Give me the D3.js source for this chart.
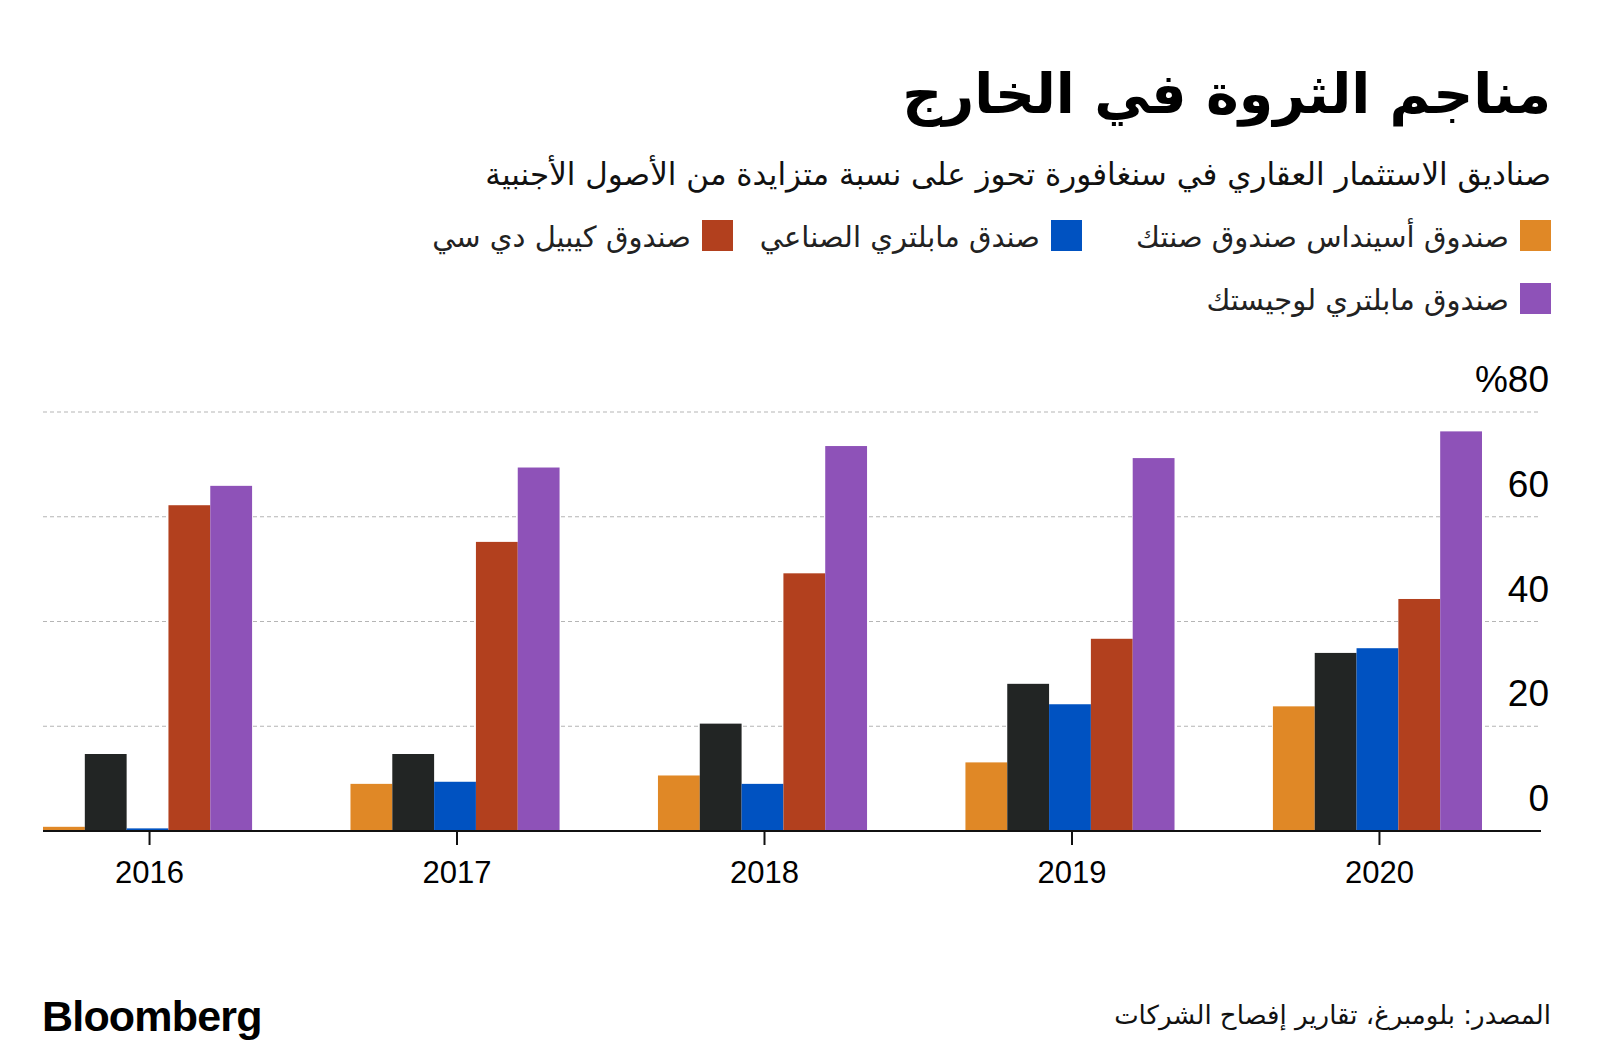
<!DOCTYPE html>
<html><head><meta charset="utf-8">
<script src="https://cdn.jsdelivr.net/npm/d3@7"></script>
<style>
html,body{margin:0;padding:0;background:#fff;}
svg{display:block;}
</style></head>
<body>
<svg id="chart" width="1600" height="1063"></svg>
<script>
const years = ["2016","2017","2018","2019","2020"];
const seriesNames = ["صندوق أسينداس","صندوق صنتك","صندق مابلتري الصناعي","صندوق كيبيل دي سي","صندوق مابلتري لوجيستك"];
const seriesColors = ["#E08826","#222524","#0052C1","#B2401E","#8E52B8"];
const ascendas = [0.8, 9.0, 10.6, 13.1, 23.8];
const suntec = [14.7, 14.7, 20.5, 28.1, 34.0];
const mapletreeInd = [0.5, 9.4, 9.0, 24.2, 34.9];
const keppelDC = [62.2, 55.2, 49.2, 36.7, 44.3];
const mapletreeLog = [65.9, 69.4, 73.5, 71.2, 76.3];
const seriesValues = [ascendas, suntec, mapletreeInd, keppelDC, mapletreeLog];
const yTicks = [0, 20, 40, 60, 80];
const yTickLabels = ["0","20","40","60","%80"];
const legendRow1 = [
  {label: "صندوق أسينداس  صندوق صنتك", color: seriesColors[0]},
  {label: "صندق مابلتري الصناعي", color: seriesColors[2]},
  {label: "صندوق كيبيل دي سي", color: seriesColors[3]}
];
const legendRow2 = [{label: "صندوق مابلتري لوجيستك", color: seriesColors[4]}];
const title = "مناجم الثروة في الخارج";
const subtitle = "صناديق الاستثمار العقاري في سنغافورة تحوز على نسبة متزايدة من الأصول الأجنبية";
const source = "المصدر: بلومبرغ، تقارير إفصاح الشركات";

const svg = d3.select("#chart");
const arFont = "'DejaVu Sans', 'Noto Sans', sans-serif";
const numFont = "'Liberation Sans', Arial, sans-serif";

// Title and subtitle
svg.append("text").attr("x", 1551).attr("y", 113).attr("text-anchor","end")
  .attr("font-family", arFont).attr("font-weight","bold").attr("font-size", 55.5)
  .attr("fill","#000").text(title);
svg.append("text").attr("x", 1551).attr("y", 185).attr("text-anchor","end")
  .attr("font-family", arFont).attr("font-size", 31)
  .attr("fill","#111").text(subtitle);

// Legend
const legendBoxRights = [1551, 1082, 733];
legendRow1.forEach((d,i) => {
  const r = legendBoxRights[i];
  svg.append("rect").attr("x", r-31).attr("y", 220).attr("width",31).attr("height",31).attr("fill", d.color);
  svg.append("text").attr("x", r-42).attr("y", 247).attr("text-anchor","end")
    .attr("font-family", arFont).attr("font-size", 29).attr("fill","#222").text(d.label);
});
legendRow2.forEach((d,i) => {
  const r = legendBoxRights[i];
  svg.append("rect").attr("x", r-31).attr("y", 283).attr("width",31).attr("height",31).attr("fill", d.color);
  svg.append("text").attr("x", r-42).attr("y", 310).attr("text-anchor","end")
    .attr("font-family", arFont).attr("font-size", 29).attr("fill","#222").text(d.label);
});

// Scales
const x0 = d3.scaleBand().domain(years).range([43, 1482]).paddingInner(0.32).paddingOuter(0);
const x1 = d3.scaleBand().domain(d3.range(seriesNames.length)).range([0, x0.bandwidth()]).padding(0);
const y = d3.scaleLinear().domain([0, 80]).range([831, 412]);

// Gridlines
svg.append("g").selectAll("line").data(yTicks.filter(t => t>0)).join("line")
  .attr("x1", 43).attr("x2", 1541)
  .attr("y1", d => y(d)).attr("y2", d => y(d))
  .attr("stroke","#b5b5b5").attr("stroke-width",1.2).attr("stroke-dasharray","4,3");

// Y tick labels
svg.append("g").selectAll("text").data(yTicks).join("text")
  .attr("x", 1549).attr("y", d => y(d) - 20).attr("text-anchor","end")
  .attr("font-family", numFont).attr("font-size", 37).attr("fill","#000")
  .text((d,i) => yTickLabels[i]);

// Bars
const groups = svg.append("g").selectAll("g").data(years).join("g")
  .attr("transform", d => `translate(${x0(d)},0)`);
groups.selectAll("rect").data((yr, yi) => seriesValues.map((vals, si) => ({si, v: vals[yi]}))).join("rect")
  .attr("x", d => x1(d.si)).attr("width", x1.bandwidth())
  .attr("y", d => y(d.v)).attr("height", d => y(0) - y(d.v))
  .attr("fill", d => seriesColors[d.si]);

// X axis baseline and ticks
svg.append("line").attr("x1", 43).attr("x2", 1541).attr("y1", 831).attr("y2", 831)
  .attr("stroke","#111").attr("stroke-width",2);
svg.append("g").selectAll("line").data(years).join("line")
  .attr("x1", d => x0(d) + x0.bandwidth()/2 + 2).attr("x2", d => x0(d) + x0.bandwidth()/2 + 2)
  .attr("y1", 831).attr("y2", 845).attr("stroke","#111").attr("stroke-width",2);
svg.append("g").selectAll("text").data(years).join("text")
  .attr("x", d => x0(d) + x0.bandwidth()/2 + 2).attr("y", 883).attr("text-anchor","middle")
  .attr("font-family", numFont).attr("font-size", 31).attr("fill","#000").text(d => d);

// Footer
svg.append("text").attr("x", 42).attr("y", 1031)
  .attr("font-family", numFont).attr("font-weight","bold").attr("font-size", 43)
  .attr("letter-spacing", -0.8).attr("fill","#000").text("Bloomberg");
svg.append("text").attr("x", 1551).attr("y", 1024).attr("text-anchor","end")
  .attr("font-family", arFont).attr("font-size", 26).attr("fill","#111").text(source);
</script>
</body></html>
